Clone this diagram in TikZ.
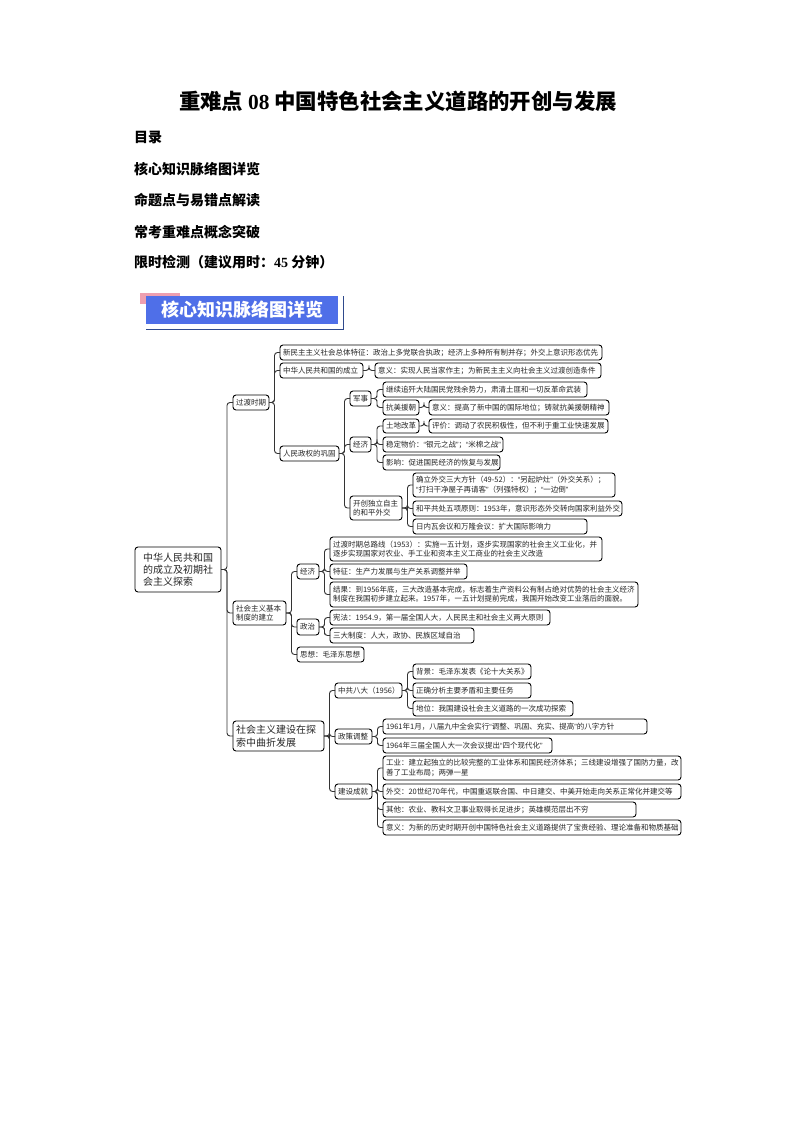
\documentclass[tikz,border=0pt]{standalone}
\usepackage{fontspec}
\setmainfont{Noto Sans CJK SC}
\newfontfamily\lat{Liberation Serif}
\newfontfamily\qfont{Liberation Sans}
\newcommand{\qo}{{\qfont “}}
\newcommand{\qc}{{\qfont ”}}
\usetikzlibrary{calc}
\definecolor{bannerblue}{HTML}{4F6FE8}
\definecolor{bannerdark}{HTML}{2F4A8C}
\definecolor{bannerpink}{HTML}{EE9FB0}
\definecolor{inkgray}{HTML}{262626}
\tikzset{
  mbox/.style={draw=black,line width=0.9pt,rounded corners=3pt,fill=white,text=inkgray,align=left,
    inner xsep=3pt,inner ysep=0pt,outer sep=0pt,font=\fontsize{7.5}{9.4}\selectfont},
  largebox/.style={font=\fontsize{10}{12.3}\selectfont,inner xsep=8pt},
  midbox/.style={font=\fontsize{10}{12.5}\selectfont,inner xsep=3pt},
  link/.style={draw=black!80,line width=0.9pt,rounded corners=3pt},
  heading/.style={anchor=west,inner sep=0pt,font=\fontsize{14}{16}\selectfont\bfseries},
  titletext/.style={inner sep=0pt,font=\fontsize{21.4}{24}\selectfont\bfseries},
  bannertext/.style={inner sep=0pt,text=white,font=\fontsize{18}{20}\selectfont\bfseries}
}
\newcommand{\bx}[7][]{\node[mbox,#1,
  text width={#5pt-#3pt-2*\pgfkeysvalueof{/pgf/inner xsep}},
  minimum height={#6pt-#4pt}] (#2) at ({(#3+#5)/2},{(#4+#6)/2}) {#7};}
\newcommand{\cn}[2]{\draw[link] (#1.east) -| ($(#1.east)!.5!(#2.west)$) |- (#2.west);}
\begin{document}
\begin{tikzpicture}[x=1pt,y=-1pt]
\useasboundingbox (0,0) rectangle (794,1123);
\fill[white] (0,0) rectangle (794,1123);
% page text
\node[titletext] (title) at (398,101) {重难点 {\lat\bfseries 08} 中国特色社会主义道路的开创与发展};
\node[heading] (h1) at (134,137) {目录};
\node[heading] (h2) at (134,169) {核心知识脉络图详览};
\node[heading] (h3) at (134,200) {命题点与易错点解读};
\node[heading] (h4) at (134,232) {常考重难点概念突破};
\node[heading] (h5) at (134,262) {限时检测（建议用时：{\lat\bfseries 45} 分钟）};
% banner
\fill[bannerpink] (140,293) rectangle (180,304);
\fill[white] (146,296) rectangle (343,329);
\draw[bannerdark,line width=1pt] (343,296) -- (343,329) -- (146,329);
\fill[bannerblue] (146,296) rectangle (338,324);
\node[bannertext] (banner) at (242,310) {核心知识脉络图详览};
% boxes
\bx[largebox]{root}{135}{547}{221}{592}{中华人民共和国\\的成立及初期社\\会主义探索}
\bx{tr}{233}{395}{269}{410}{过渡时期}
\bx{base}{233}{601}{286}{625}{社会主义基本\\制度的建立}
\bx[midbox]{expl}{233}{721}{324}{751}{社会主义建设在探\\索中曲折发展}
% transition
\bx{a1}{280}{345}{602}{360}{新民主主义社会总体特征：政治上多党联合执政；经济上多种所有制并存；外交上意识形态优先}
\bx{a2}{280}{363}{363}{378}{中华人民共和国的成立}
\bx{a2x}{375}{363}{601}{378}{意义：实现人民当家作主；为新民主主义向社会主义过渡创造条件}
\bx{a3}{280}{446}{339}{461}{人民政权的巩固}
\bx{mil}{350}{391}{371}{406}{军事}
\bx{eco}{350}{437}{371}{452}{经济}
\bx{dip}{350}{496}{402}{520}{开创独立自主\\的和平外交}
\bx{m1}{383}{382}{587}{397}{继续追歼大陆国民党残余势力，肃清土匪和一切反革命武装}
\bx{m2}{383}{400}{419}{415}{抗美援朝}
\bx{m2x}{429}{400}{609}{415}{意义：提高了新中国的国际地位；铸就抗美援朝精神}
\bx{e1}{383}{419}{419}{433}{土地改革}
\bx{e1x}{429}{419}{608}{433}{评价：调动了农民积极性，但不利于重工业快速发展}
\bx{e2}{383}{437}{503}{452}{稳定物价：\qo 银元之战\qc ；\qo 米棉之战\qc}
\bx{e3}{383}{455}{500}{470}{影响：促进国民经济的恢复与发展}
\bx{d1}{413}{473}{615}{497}{确立外交三大方针（\mbox{49-52}）：\qo 另起炉灶\qc （外交关系）；\\\qo 打扫干净屋子再请客\qc （列强特权）；\qo 一边倒\qc}
\bx{d2}{413}{501}{622}{516}{和平共处五项原则：1953年，意识形态外交转向国家利益外交}
\bx{d3}{413}{519}{587}{534}{日内瓦会议和万隆会议：扩大国际影响力}
% base
\bx{b1}{297}{564}{319}{579}{经济}
\bx{b2}{297}{619}{319}{635}{政治}
\bx{b3}{297}{647}{364}{662}{思想：毛泽东思想}
\bx{p1}{330}{537}{602}{561}{过渡时期总路线（1953）：实施一五计划，逐步实现国家的社会主义工业化，并\\逐步实现国家对农业、手工业和资本主义工商业的社会主义改造}
\bx{p2}{330}{564}{467}{579}{特征：生产力发展与生产关系调整并举}
\bx{p3}{330}{582}{638}{607}{结果：到1956年底，三大改造基本完成，标志着生产资料公有制占绝对优势的社会主义经济\\制度在我国初步建立起来。1957年，一五计划提前完成，我国开始改变工业落后的面貌。}
\bx{q1}{330}{610}{550}{625}{宪法：1954.9，第一届全国人大，人民民主和社会主义两大原则}
\bx{q2}{330}{628}{474}{643}{三大制度：人大，政协、民族区域自治}
% exploration
\bx{c1}{335}{683}{402}{698}{中共八大（1956）}
\bx{c2}{335}{729}{372}{744}{政策调整}
\bx{c3}{335}{784}{372}{799}{建设成就}
\bx{r1}{413}{664}{531}{679}{背景：毛泽东发表《论十大关系》}
\bx{r2}{413}{683}{531}{698}{正确分析主要矛盾和主要任务}
\bx{r3}{413}{701}{573}{716}{地位：我国建设社会主义道路的一次成功探索}
\bx{s1}{383}{719}{647}{734}{1961年1月，八届九中全会实行\qo 调整、巩固、充实、提高\qc 的八字方针}
\bx{s2}{383}{738}{552}{753}{1964年三届全国人大一次会议提出\qo 四个现代化\qc}
\bx{t1}{383}{756}{681}{780}{工业：建立起独立的比较完整的工业体系和国民经济体系；三线建设增强了国防力量，改\\善了工业布局；两弹一星}
\bx{t2}{383}{784}{681}{799}{外交：20世纪70年代，中国重返联合国、中日建交、中美开始走向关系正常化并建交等}
\bx{t3}{383}{802}{636}{817}{其他：农业、教科文卫事业取得长足进步；英雄模范层出不穷}
\bx{t4}{383}{820}{681}{835}{意义：为新的历史时期开创中国特色社会主义道路提供了宝贵经验、理论准备和物质基础}
% connectors
\cn{root}{tr}\cn{root}{base}\cn{root}{expl}
\cn{tr}{a1}\cn{tr}{a2}\cn{tr}{a3}
\cn{a2}{a2x}
\cn{a3}{mil}\cn{a3}{eco}\cn{a3}{dip}
\cn{mil}{m1}\cn{mil}{m2}\cn{m2}{m2x}
\cn{eco}{e1}\cn{eco}{e2}\cn{eco}{e3}\cn{e1}{e1x}
\cn{dip}{d1}\cn{dip}{d2}\cn{dip}{d3}
\cn{base}{b1}\cn{base}{b2}\cn{base}{b3}
\cn{b1}{p1}\cn{b1}{p2}\cn{b1}{p3}
\cn{b2}{q1}\cn{b2}{q2}
\cn{expl}{c1}\cn{expl}{c2}\cn{expl}{c3}
\cn{c1}{r1}\cn{c1}{r2}\cn{c1}{r3}
\cn{c2}{s1}\cn{c2}{s2}
\cn{c3}{t1}\cn{c3}{t2}\cn{c3}{t3}\cn{c3}{t4}
\end{tikzpicture}
\end{document}
